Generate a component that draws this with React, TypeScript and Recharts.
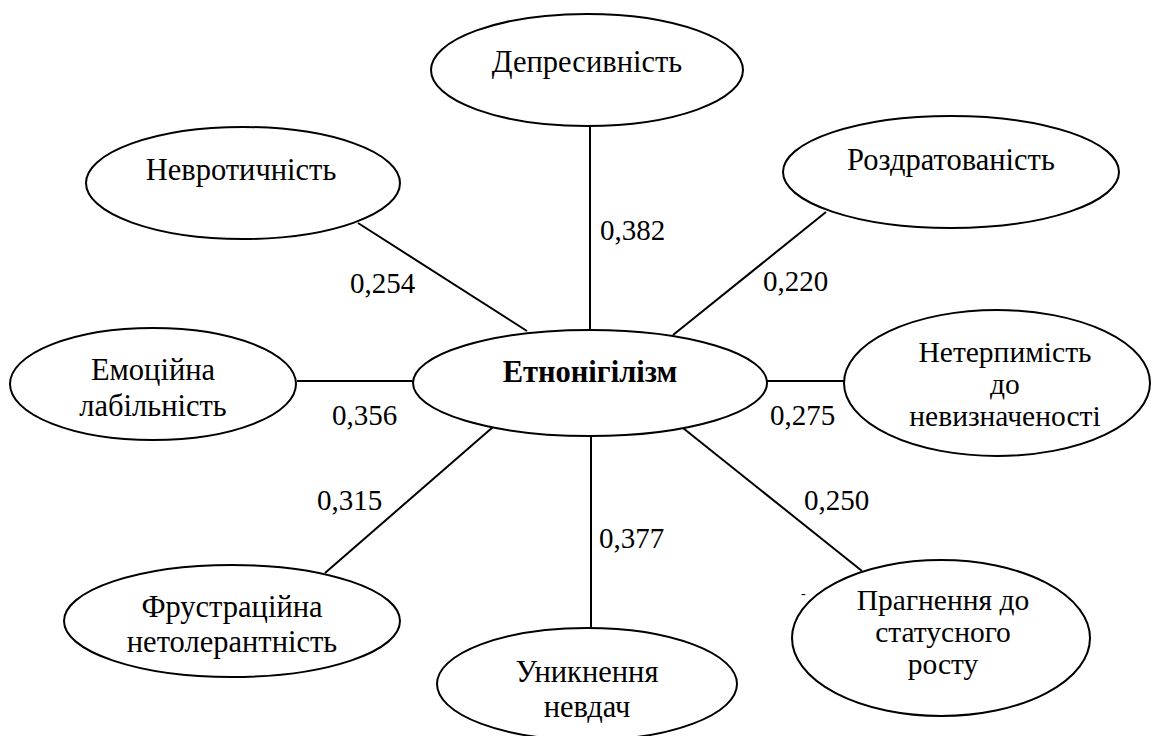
import React from "react";
import { ScatterChart, Scatter, XAxis, YAxis, ReferenceLine } from "recharts";

// diagram coordinates (same units as the 1154 x 736 canvas)
const nodeLines = [
  ["Депресивність"],
  ["Невротичність"],
  ["Роздратованість"],
  ["Етнонігілізм"],
  ["Емоційна", "лабільність"],
  ["Нетерпимість", "до", "невизначеності"],
  ["Фрустраційна", "нетолерантність"],
  ["Уникнення", "невдач"],
  ["Прагнення до", "статусного", "росту"],
];
const nodeX = [587, 243, 951, 590, 153, 997, 232, 587, 941];
const nodeY = [70, 183, 172, 383, 384, 383, 621, 684, 638];
const nodeRx = [156, 157, 168, 177, 143, 153, 168, 150, 149];
const nodeRy = [56, 56, 56, 53, 56, 73, 56, 56, 78];
const textX = [587, 241, 951, 590, 153, 1005, 232, 587, 943];
const textBaselines = [
  [72],
  [180],
  [170],
  [382],
  [380, 416],
  [362, 394, 426],
  [617, 652],
  [682, 717],
  [610, 642, 674],
];
const centralNode = 3;

const edgeFrom = [
  [590, 127],
  [358, 223],
  [826, 212],
  [297, 381],
  [766, 381],
  [325, 573],
  [591, 436],
  [683, 428],
];
const edgeTo = [
  [590, 331],
  [527, 331],
  [673, 335],
  [414, 381],
  [845, 381],
  [493, 427],
  [591, 629],
  [862, 571],
];

const coefValues = ["0,382", "0,254", "0,220", "0,356", "0,275", "0,315", "0,377", "0,250", "-"];
const coefX = [600, 350, 763, 332, 770, 317, 599, 804, 801];
const coefY = [240, 293, 291, 425, 425, 510, 548, 510, 598];

const SERIF = "Liberation Serif, Tinos, Times New Roman, serif";

const nodes = nodeLines.map((lines, i) => ({
  x: nodeX[i],
  y: nodeY[i],
  rx: nodeRx[i],
  ry: nodeRy[i],
  tx: textX[i],
  baselines: textBaselines[i],
  lines,
  bold: i === centralNode,
}));

const coefs = coefValues.map((v, i) => ({ x: coefX[i], y: coefY[i], v }));

function NodeShape(props: any) {
  const { cx, cy, payload } = props;
  if (cx == null || cy == null) return null;
  return (
    <g>
      <ellipse
        cx={cx}
        cy={cy}
        rx={payload.rx}
        ry={payload.ry}
        fill="#fff"
        stroke="#000"
        strokeWidth={2}
      />
      {payload.lines.map((t: string, j: number) => (
        <text
          key={j}
          x={cx + (payload.tx - payload.x)}
          y={cy + (payload.baselines[j] - payload.y)}
          textAnchor="middle"
          fontFamily={SERIF}
          fontSize={payload.lines.length > 2 ? 29.5 : 30.5}
          fontWeight={payload.bold ? 700 : 400}
          fill="#000"
        >
          {t}
        </text>
      ))}
    </g>
  );
}

function CoefShape(props: any) {
  const { cx, cy, payload } = props;
  if (cx == null || cy == null) return null;
  const small = payload.v === "-";
  return (
    <text
      x={cx}
      y={cy}
      fontFamily={SERIF}
      fontSize={small ? 14 : 29}
      fill="#000"
    >
      {payload.v}
    </text>
  );
}

export default function App() {
  return (
    <div style={{ position: "absolute", left: 0, top: 0, background: "#fff" }}>
      <ScatterChart
        width={1154}
        height={736}
        margin={{ top: 0, right: 0, bottom: 0, left: 0 }}
      >
        <XAxis type="number" dataKey="x" domain={[0, 1154]} hide />
        <YAxis type="number" dataKey="y" domain={[0, 736]} reversed hide />
        {edgeFrom.map((p, i) => (
          <ReferenceLine
            key={i}
            segment={[
              { x: p[0], y: p[1] },
              { x: edgeTo[i][0], y: edgeTo[i][1] },
            ]}
            stroke="#000"
            strokeWidth={2}
            ifOverflow="visible"
          />
        ))}
        <Scatter data={nodes} shape={NodeShape} isAnimationActive={false} />
        <Scatter data={coefs} shape={CoefShape} isAnimationActive={false} />
      </ScatterChart>
    </div>
  );
}
